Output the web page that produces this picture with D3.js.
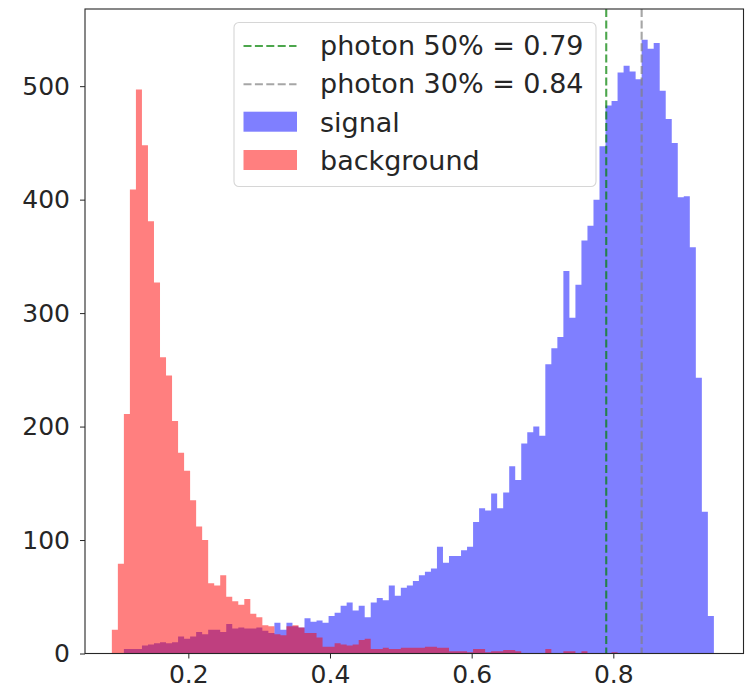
<!DOCTYPE html>
<html>
<head>
<meta charset="utf-8">
<script src="https://cdn.jsdelivr.net/npm/d3@7"></script>
<style>
  body { margin: 0; background: #fff; }
  svg { display: block; font-family: 'DejaVu Sans', sans-serif; }
  .axis text { font-size: 25px; fill: #262626; font-family: 'DejaVu Sans', sans-serif; }
  .axis line, .axis path { stroke: #262626; }
  .legend-text { font-size: 27px; fill: #262626; }
</style>
</head>
<body>
<div id="diagram"></div>
<script>
// Histogram bins (shared by both samples)
var binLo = 0.092;
var binHi = 0.942;
var binCount = 100;

// Signal counts per bin
var signalCounts = [
  0, 0, 4, 4, 4, 7, 8, 9, 10, 9,
  10, 15, 13, 15, 19, 17, 21, 21, 19, 26,
  22, 23, 22, 22, 23, 20, 18, 27, 21, 27,
  24, 23, 31, 28, 29, 27, 33, 36, 42, 45,
  38, 42, 32, 45, 49, 47, 60, 51, 58, 60,
  64, 69, 72, 75, 94, 80, 86, 86, 91, 94,
  116, 128, 126, 141, 128, 142, 165, 153, 185, 195,
  200, 192, 255, 269, 279, 337, 296, 325, 364, 377,
  400, 447, 483, 487, 512, 518, 513, 506, 541, 533,
  538, 496, 471, 450, 402, 403, 358, 243, 125, 33
];

// Background counts per bin
var backgroundCounts = [
  21, 79, 211, 409, 497, 448, 381, 327, 261, 245,
  205, 177, 161, 135, 112, 100, 62, 60, 69, 50,
  46, 43, 48, 35, 32, 25, 24, 17, 16, 24,
  25, 23, 18, 18, 14, 6, 6, 9, 8, 7,
  8, 12, 13, 4, 4, 5, 4, 4, 5, 5,
  5, 5, 6, 6, 5, 5, 2, 2, 2, 1,
  4, 4, 1, 2, 2, 3, 3, 2, 0, 0,
  0, 0, 4, 0, 0, 2, 2, 0, 2, 0,
  0, 0, 0, 1, 0, 0, 0, 0, 0, 0,
  0, 0, 0, 0, 0, 0, 0, 0, 0, 0
];

// Photon efficiency cuts
var cutValues = [0.79, 0.84];
var cutLabels = ['photon 50% = 0.79', 'photon 30% = 0.84'];
var cutColors = ['#008000', '#808080'];

// Histogram legend
var seriesLabels = ['signal', 'background'];
var seriesColors = ['#0000ff', '#ff0000'];

// Ticks
var xTicks = [0.2, 0.4, 0.6, 0.8];
var yTicks = [0, 100, 200, 300, 400, 500];

function init() {
  // SVG
  var w = 745;
  var h = 688;
  var left = 85;
  var right = 743.5;
  var top = 9;
  var bottom = 653.5;

  var svg = d3
    .select('#diagram')
    .append('svg')
    .attr('width', w)
    .attr('height', h);

  svg.append('rect').attr('width', w).attr('height', h).attr('fill', '#fff');

  // Scales
  var xScale = d3.scaleLinear().domain([0.0541, 0.9838]).range([left, right]);
  var yScale = d3.scaleLinear().domain([0, 568]).range([bottom, top]);

  // Bin edges
  var binWidth = (binHi - binLo) / binCount;
  var edges = d3.range(binCount + 1).map((i) => binLo + i * binWidth);

  // Filled step outline of one histogram
  function histPath(counts) {
    var p = d3.path();
    p.moveTo(xScale(edges[0]), yScale(0));
    counts.forEach((d, i) => {
      p.lineTo(xScale(edges[i]), yScale(d));
      p.lineTo(xScale(edges[i + 1]), yScale(d));
    });
    p.lineTo(xScale(edges[binCount]), yScale(0));
    p.closePath();
    return p.toString();
  }

  // Draw histograms (signal first, background on top)
  svg
    .selectAll('.hist')
    .data([signalCounts, backgroundCounts])
    .enter()
    .append('path')
    .attr('class', 'hist')
    .attr('d', (d) => histPath(d))
    .attr('fill', (d, i) => seriesColors[i])
    .attr('fill-opacity', 0.5);

  // Cut lines
  svg
    .selectAll('.cut-line')
    .data(cutValues)
    .enter()
    .append('line')
    .attr('class', 'cut-line')
    .attr('x1', (d) => xScale(d))
    .attr('x2', (d) => xScale(d))
    .attr('y1', top)
    .attr('y2', bottom)
    .attr('stroke', (d, i) => cutColors[i])
    .attr('stroke-opacity', 0.7)
    .attr('stroke-width', 2.1)
    .attr('stroke-dasharray', '8,3.4');

  // X axis
  var xAxis = d3
    .axisBottom(xScale)
    .tickValues(xTicks)
    .tickFormat(d3.format('.1f'))
    .tickSize(5)
    .tickPadding(7);
  var gx = svg
    .append('g')
    .attr('class', 'axis')
    .attr('transform', `translate(0, ${bottom})`)
    .call(xAxis);
  gx.select('.domain').remove();

  // Y axis
  var yAxis = d3
    .axisLeft(yScale)
    .tickValues(yTicks)
    .tickSize(5)
    .tickPadding(10);
  var gy = svg
    .append('g')
    .attr('class', 'axis')
    .attr('transform', `translate(${left}, 0)`)
    .call(yAxis);
  gy.select('.domain').remove();

  // Frame
  svg
    .append('rect')
    .attr('x', left)
    .attr('y', top)
    .attr('width', right - left)
    .attr('height', bottom - top)
    .attr('fill', 'none')
    .attr('stroke', '#262626')
    .attr('stroke-width', 1.1);

  // Legend
  var legend = svg.append('g').attr('class', 'legend');
  legend
    .append('rect')
    .attr('x', 234)
    .attr('y', 22.5)
    .attr('width', 362)
    .attr('height', 164)
    .attr('rx', 5)
    .attr('fill', '#fff')
    .attr('fill-opacity', 0.8)
    .attr('stroke', '#d6d6d6')
    .attr('stroke-width', 1.1);

  var rowY = [55, 93.3, 131.7, 170];

  // Legend - cut lines
  cutLabels.forEach((label, i) => {
    legend
      .append('line')
      .attr('x1', 243.5)
      .attr('x2', 296.5)
      .attr('y1', rowY[i] - 9)
      .attr('y2', rowY[i] - 9)
      .attr('stroke', cutColors[i])
      .attr('stroke-opacity', 0.7)
      .attr('stroke-width', 2.1)
      .attr('stroke-dasharray', '8,3.4');
    legend
      .append('text')
      .attr('class', 'legend-text')
      .attr('x', 320)
      .attr('y', rowY[i])
      .text(label);
  });

  // Legend - histogram patches
  seriesLabels.forEach((label, i) => {
    var y = rowY[i + 2];
    legend
      .append('rect')
      .attr('x', 243.5)
      .attr('y', y - 20)
      .attr('width', 53.5)
      .attr('height', 20)
      .attr('fill', seriesColors[i])
      .attr('fill-opacity', 0.5);
    legend
      .append('text')
      .attr('class', 'legend-text')
      .attr('x', 320)
      .attr('y', y)
      .text(label);
  });
}

window.onload = init;
</script>
</body>
</html>
